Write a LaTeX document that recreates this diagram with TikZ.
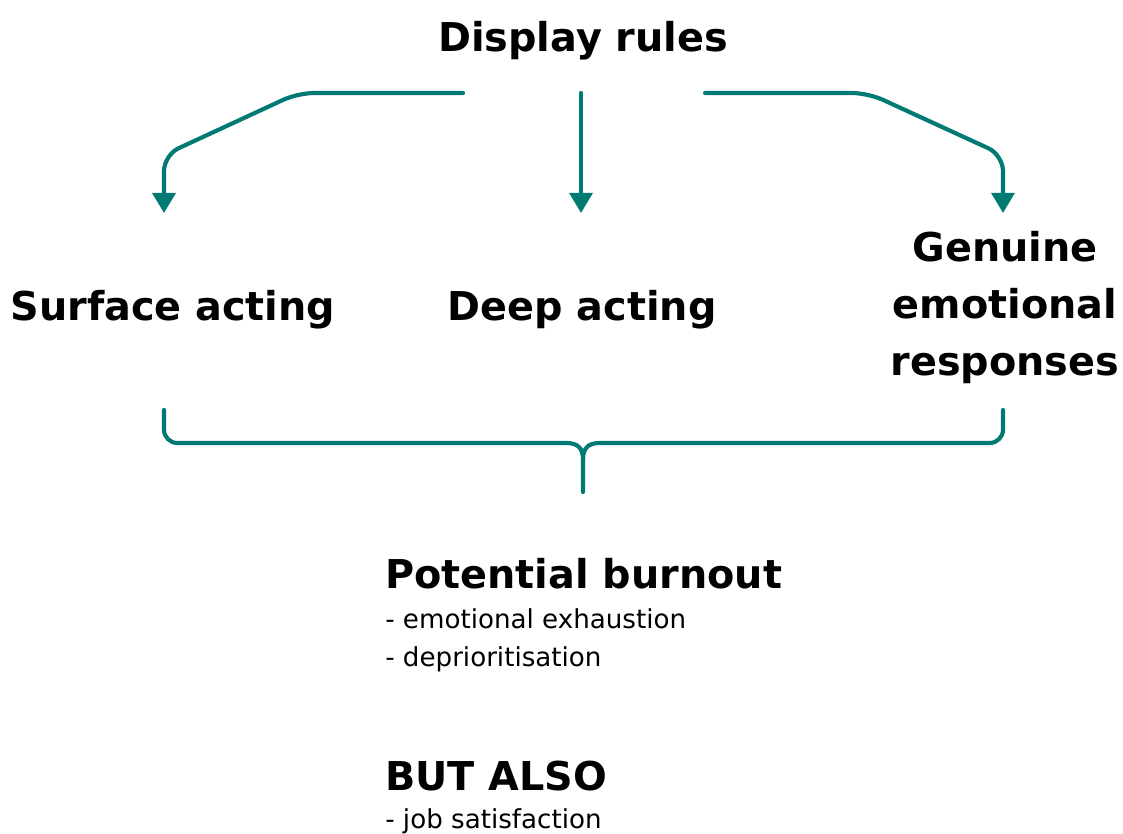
\documentclass[tikz,border=0pt]{standalone}
\usepackage{fontspec}
\setmainfont{DejaVu Sans}
\usetikzlibrary{arrows.meta}
\definecolor{teal1}{RGB}{0,122,115}
\begin{document}
\begin{tikzpicture}[x=0.75pt,y=-0.75pt,
  conn/.style={draw=teal1,line width=3.1pt,line cap=round,line join=round},
  arr/.style={conn,-{Triangle[length=15pt,width=17pt]}},
  big/.style={font=\bfseries\fontsize{29.8}{42.5}\selectfont,inner sep=0pt},
  small/.style={font=\fontsize{19.6}{28}\selectfont,inner sep=0pt,anchor=base west}]
\useasboundingbox (0,0) rectangle (1123,834);
% texts
\node[big,anchor=base] (dr) at (583,52) {Display rules};
\node[big,anchor=base] (sa) at (173,320) {Surface acting};
\node[big,anchor=base] (da) at (582,320) {Deep acting};
\node[big,anchor=base,align=center] (ger) at (1005,375) {Genuine\\emotional\\responses};
\node[big,anchor=base west] (pb) at (385,588) {Potential burnout};
\node[small] (e1) at (385,628) {- emotional exhaustion};
\node[small] (e2) at (385,666) {- deprioritisation};
\node[big,anchor=base west] (ba) at (385,790) {BUT ALSO};
\node[small] (e3) at (385,828) {- job satisfaction};
% anchor coordinates
\coordinate (sL) at (463,93);
\coordinate (sM) at (581,93);
\coordinate (sR) at (705,93);
\coordinate (tL) at (164,213);
\coordinate (tM) at (581,213);
\coordinate (tR) at (1003,213);
% arrows
\draw[arr,rounded corners=12pt] (sL) -- (298,93) -- (164,155) -- (tL);
\draw[arr] (sM) -- (tM);
\draw[arr,rounded corners=12pt] (sR) -- (868,93) -- (1003,155) -- (tR);
% brace
\coordinate (bL) at (164,410);
\coordinate (bR) at (1003,410);
\coordinate (bS) at (583,492);
\draw[conn,rounded corners=10pt] (bL) -- (164,443) -- (566,443);
\draw[conn] (566,443) .. controls (578,443) and (583,448) .. (583,460) -- (bS);
\draw[conn,rounded corners=10pt] (bR) -- (1003,443) -- (600,443);
\draw[conn] (600,443) .. controls (588,443) and (583,448) .. (583,460);
\end{tikzpicture}
\end{document}
